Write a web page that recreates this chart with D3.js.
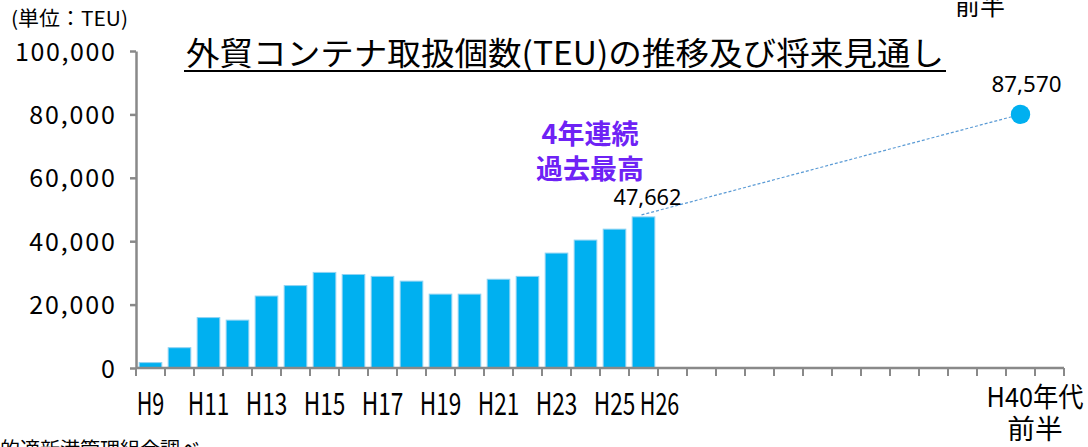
<!DOCTYPE html>
<html><head><meta charset="utf-8">
<script src="https://cdn.jsdelivr.net/npm/d3@7"></script>
<style>
html,body{margin:0;padding:0;background:#fff;}
svg{display:block;}
</style></head>
<body>
<svg id="chart" width="1088" height="447"></svg>
<script>
// ---- data ----
const years = ["H9","H10","H11","H12","H13","H14","H15","H16","H17","H18","H19","H20","H21","H22","H23","H24","H25","H26"];
const teu = [1700, 6400, 15900, 15100, 22700, 26000, 30150, 29500, 28900, 27400, 23300, 23300, 28000, 28900, 36250, 40350, 43800, 47662];
const futureSlots = ["H27","H28","H29","H30","H31","H32","H33","H34","H35","H36","H37","H38"];
const forecastCategory = "H40年代前半";
const trailingSlots = ["end"];
const forecastPlotted = 80000;     // where the marker sits on the value axis
const forecastLabel = 87570;        // value printed next to the marker
const lastLabel = 47662;
const yTicks = [0, 20000, 40000, 60000, 80000, 100000];
const xTickLabels = ["H9","H11","H13","H15","H17","H19","H21","H23","H25"];
const extraTickLabel = "H26";
const forecastTickLines = ["H40年代", "前半"];
const titleText = "外貿コンテナ取扱個数(TEU)の推移及び将来見通し";
const unitText = "(単位：TEU)";
const noteLines = ["4年連続", "過去最高"];
const sourceText = "的適新港管理組合調べ";
const strayText = "前半";

// ---- layout ----
const svg = d3.select("#chart");
const axisCats = [...years, ...futureSlots, forecastCategory, ...trailingSlots];
const x0 = 136, x1 = 1064, yBase = 368, yTop = 51;
const xs = d3.scaleBand().domain(axisCats).range([x0, x1]).padding(0);
const xb = d3.scaleBand().domain(axisCats).range([x0, x1]).paddingInner(0.22).paddingOuter(0.11);
const y = d3.scaleLinear().domain([0, 100000]).range([yBase, yTop]);
const axisColor = "#898989";
const jp = "'Noto Sans CJK JP','Noto Sans CJK SC',sans-serif";

function msw(str, em){ let w=0; for(const c of str){ w += (c.charCodeAt(0) < 0x2000) ? 0.5 : 1; } return w*em; }

// bars
svg.append("g").selectAll("rect").data(years).join("rect")
  .attr("x", d => xb(d))
  .attr("width", xb.bandwidth())
  .attr("y", (d,i) => y(teu[i]))
  .attr("height", (d,i) => y(0) - y(teu[i]))
  .attr("fill", "#00b0f0")
  .attr("stroke", "#8fd3f3")
  .attr("stroke-width", 1);

// y axis
const yAxis = svg.append("g").attr("transform", `translate(${x0},0)`)
  .call(d3.axisLeft(y).tickValues(yTicks).tickSize(6).tickSizeOuter(0).tickPadding(15).tickFormat(d3.format(",")));
yAxis.select(".domain").attr("stroke", axisColor).attr("stroke-width", 2.5);
yAxis.selectAll(".tick line").attr("stroke", axisColor).attr("stroke-width", 2.5);
yAxis.selectAll(".tick text")
  .attr("font-family", jp).attr("font-size", 25).attr("fill", "#000")
  .attr("dy", "0.36em")
  .each(function(){ const t=d3.select(this); t.attr("textLength", msw(t.text(), 28.6)).attr("lengthAdjust","spacing"); });

// x axis line + ticks at slot edges
svg.append("line").attr("x1", x0).attr("x2", x1).attr("y1", y(0)).attr("y2", y(0))
  .attr("stroke", axisColor).attr("stroke-width", 2.5);
const edges = axisCats.map(c => xs(c)).concat([xs.range()[1]]);
svg.append("g").selectAll("line").data(edges).join("line")
  .attr("x1", d => d).attr("x2", d => d)
  .attr("y1", y(0)).attr("y2", y(0) + 8)
  .attr("stroke", axisColor).attr("stroke-width", 2);

// x labels
const xEm = 27.7;
svg.append("g").selectAll("text").data(xTickLabels).join("text")
  .attr("x", d => xs(d) + xs.bandwidth()/2)
  .attr("y", 415)
  .attr("text-anchor", "middle")
  .attr("font-family", jp).attr("font-size", 31)
  .attr("textLength", d => msw(d, xEm)).attr("lengthAdjust", "spacingAndGlyphs")
  .text(d => d);
svg.append("text")
  .attr("x", xs(extraTickLabel) + xs.bandwidth()/2 + 16)
  .attr("y", 415).attr("text-anchor", "middle")
  .attr("font-family", jp).attr("font-size", 31)
  .attr("textLength", msw(extraTickLabel, xEm) - 2).attr("lengthAdjust", "spacingAndGlyphs")
  .text(extraTickLabel);
const fcX = xs(forecastCategory) + xs.bandwidth();
svg.append("g").selectAll("text").data(forecastTickLines).join("text")
  .attr("x", fcX).attr("y", (d,i) => 407 + i*32)
  .attr("text-anchor", "middle")
  .attr("font-family", jp).attr("font-size", 27)
  .attr("textLength", d => msw(d, xEm)).attr("lengthAdjust", "spacingAndGlyphs")
  .text(d => d);

// dashed projection line
const lastCat = years[years.length-1];
const px = xb(forecastCategory) + xb.bandwidth()/2, py = y(forecastPlotted);
svg.append("line")
  .attr("x1", xb(lastCat) + xb.bandwidth()/2 - 2).attr("y1", y(teu[teu.length-1]) - 2)
  .attr("x2", px).attr("y2", py)
  .attr("stroke", "#5b9bd5").attr("stroke-width", 1.2).attr("stroke-dasharray", "3,2");
svg.append("circle").attr("cx", px).attr("cy", py).attr("r", 9.7).attr("fill", "#00b0f0");

// value labels
const fmt = d3.format(",");
svg.append("text").attr("x", px + 6).attr("y", 92).attr("text-anchor", "middle")
  .attr("font-family", "'Noto Sans',sans-serif").attr("font-size", 22)
  .attr("textLength", 70).attr("lengthAdjust", "spacingAndGlyphs")
  .text(fmt(forecastLabel));
svg.append("text").attr("x", xb(lastCat) + xb.bandwidth()/2 + 4).attr("y", 205).attr("text-anchor", "middle")
  .attr("font-family", "'Noto Sans',sans-serif").attr("font-size", 22)
  .attr("textLength", 68).attr("lengthAdjust", "spacingAndGlyphs")
  .text(fmt(lastLabel));

// annotation
svg.append("g").selectAll("text").data(noteLines).join("text")
  .attr("x", 590).attr("y", (d,i) => 144 + i*35)
  .attr("text-anchor", "middle")
  .attr("font-family", jp).attr("font-weight", "bold").attr("font-size", 27)
  .attr("fill", "#6e22f5")
  .text(d => d);

// title
svg.append("text").attr("x", 186).attr("y", 65)
  .attr("font-family", jp).attr("font-size", 32)
  .attr("textLength", 758).attr("lengthAdjust", "spacingAndGlyphs")
  .text(titleText);
svg.append("line").attr("x1", 184).attr("x2", 946).attr("y1", 71).attr("y2", 71)
  .attr("stroke", "#000").attr("stroke-width", 2);

// unit
svg.append("text").attr("x", 11).attr("y", 26)
  .attr("font-family", jp).attr("font-size", 20)
  .attr("textLength", 117).attr("lengthAdjust", "spacingAndGlyphs")
  .text(unitText);

// stray cut-off texts
svg.append("text").attr("x", 980).attr("y", 15).attr("text-anchor", "middle")
  .attr("font-family", jp).attr("font-size", 25)
  .text(strayText);
svg.append("text").attr("x", 0).attr("y", 457)
  .attr("font-family", jp).attr("font-size", 20)
  .text(sourceText);
</script>
</body></html>
